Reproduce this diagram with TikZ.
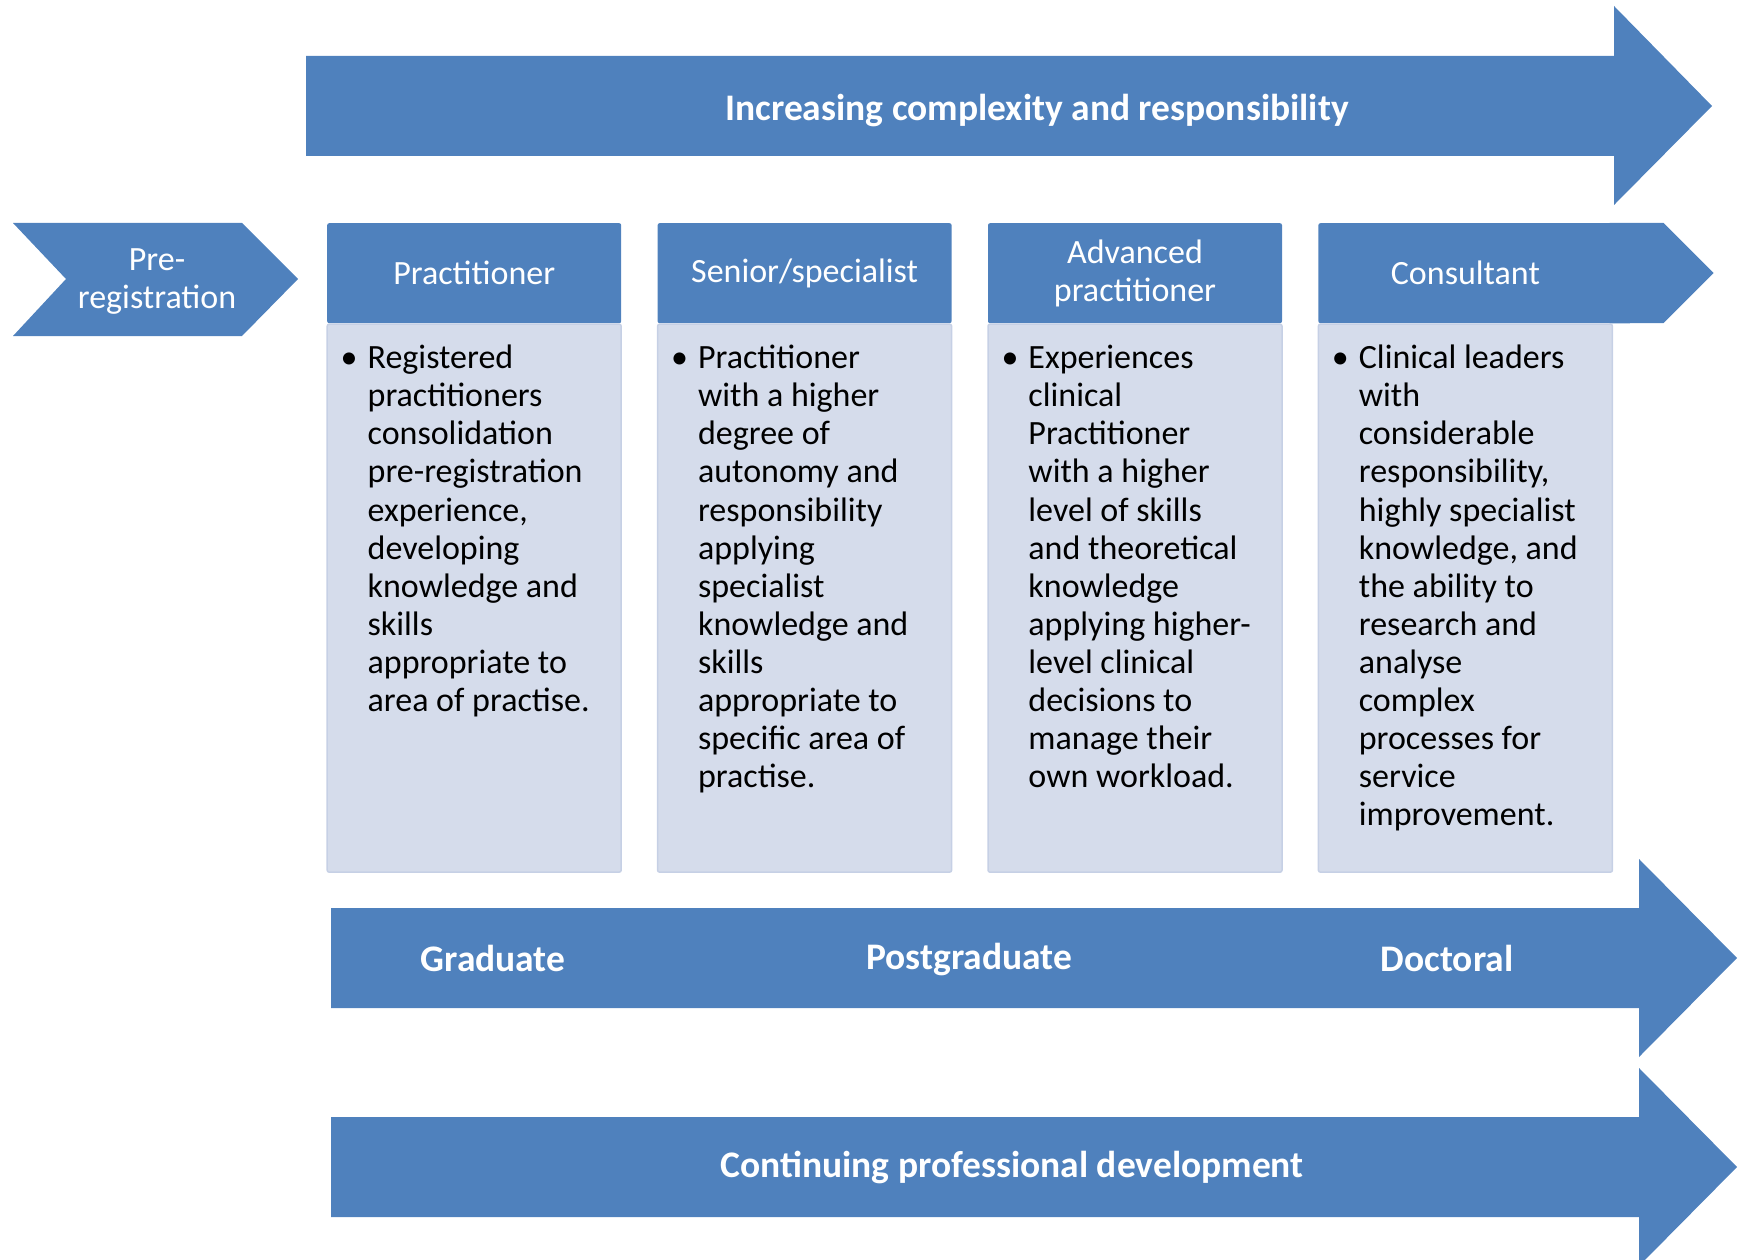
\documentclass[tikz,border=0pt]{standalone}
\usepackage{fontspec}
\setmainfont{Carlito}
\usetikzlibrary{positioning}
\definecolor{stageblue}{HTML}{4F81BD}
\definecolor{notefill}{HTML}{D5DCEB}
\definecolor{noteline}{HTML}{C6D0E5}
\tikzstyle{band} = [fill=stageblue]
\tikzstyle{bandtext} = [anchor=base, text=white, font=\bfseries\fontsize{37.5}{42}\selectfont]
\tikzstyle{stage} = [rectangle, rounded corners=2pt, minimum width=294pt, minimum height=100pt, inner sep=0pt, text width=280pt, align=center, fill=stageblue, text=white, font=\fontsize{34}{38}\selectfont]
\tikzstyle{notes} = [rectangle, rounded corners=2pt, minimum width=294pt, minimum height=548pt, fill=notefill, draw=noteline, line width=1.5pt]
\tikzstyle{bullets} = [anchor=north west, align=left, inner sep=0pt, font=\fontsize{34}{38.1}\selectfont]
% bullet hanging in the margin, with a strut so every first line has the same height
\newcommand{\bul}{\rule{0pt}{26pt}\llap{\textbullet\hspace{10pt}}}

\begin{document}
\begin{tikzpicture}[x=1pt, y=-1pt]
\useasboundingbox (0,0) rectangle (1743,1260);

% Top arrow
\fill[band] (306,56) -- (1614,56) -- (1614,6) -- (1712,106) -- (1614,205) -- (1614,156) -- (306,156) -- cycle;
\node (complexity) [bandtext] at (1037,121) {Increasing complexity and responsibility};

% Pre-registration chevron
\fill[band] (13,223) -- (242,223) -- (298,279) -- (242,336) -- (13,336) -- (66,279) -- cycle;
\node (prereg) [text=white, align=center, font=\fontsize{34}{38}\selectfont] at (157,282) {Pre-\\registration};

% Stage headers
\node (practitioner) [stage, anchor=north west] at (327,223) {Practitioner};
\node (senior) [stage, right=36pt of practitioner] {\raisebox{-3pt}{Senior/specialist}};
\node (advanced) [stage, right=36pt of senior] {Advanced\\practitioner};
\node (consultant) [stage, right=36pt of advanced] {Consultant};
\fill[band] ([xshift=-3pt]consultant.north east) -- ++(54,0) -- ++(50,50) -- ++(-50,50) -- ([xshift=-3pt]consultant.south east) -- cycle;

% Stage descriptions
\node (practitioner_notes) [notes, below=0pt of practitioner] {};
\node (senior_notes) [notes, below=0pt of senior] {};
\node (advanced_notes) [notes, below=0pt of advanced] {};
\node (consultant_notes) [notes, below=0pt of consultant] {};

\node (practitioner_text) [bullets] at ([xshift=41pt,yshift=-19pt]practitioner_notes.north west)
  {\bul Registered\\practitioners\\consolidation\\pre-registration\\experience,\\developing\\knowledge and\\skills\\appropriate to\\area of practise.};
\node (senior_text) [bullets] at ([xshift=41pt,yshift=-19pt]senior_notes.north west)
  {\bul Practitioner\\with a higher\\degree of\\autonomy and\\responsibility\\applying\\specialist\\knowledge and\\skills\\appropriate to\\specific area of\\practise.};
\node (advanced_text) [bullets] at ([xshift=41pt,yshift=-19pt]advanced_notes.north west)
  {\bul Experiences\\clinical\\Practitioner\\with a higher\\level of skills\\and theoretical\\knowledge\\applying higher-\\level clinical\\decisions to\\manage their\\own workload.};
\node (consultant_text) [bullets] at ([xshift=41pt,yshift=-19pt]consultant_notes.north west)
  {\bul Clinical leaders\\with\\considerable\\responsibility,\\highly specialist\\knowledge, and\\the ability to\\research and\\analyse\\complex\\processes for\\service\\improvement.};

% Qualification arrow
\fill[band] (331,908) -- (1639,908) -- (1639,859) -- (1737,958) -- (1639,1057) -- (1639,1008) -- (331,1008) -- cycle;
\node (graduate) [bandtext] at (493,971) {Graduate};
\node (postgraduate) [bandtext] at (969,969) {Postgraduate};
\node (doctoral) [bandtext] at (1447,971) {Doctoral};

% CPD arrow
\fill[band] (331,1117) -- (1639,1117) -- (1639,1068) -- (1737,1167) -- (1639,1266) -- (1639,1217) -- (331,1217) -- cycle;
\node (cpd) [bandtext] at (1012,1177) {Continuing professional development};

\end{tikzpicture}
\end{document}
